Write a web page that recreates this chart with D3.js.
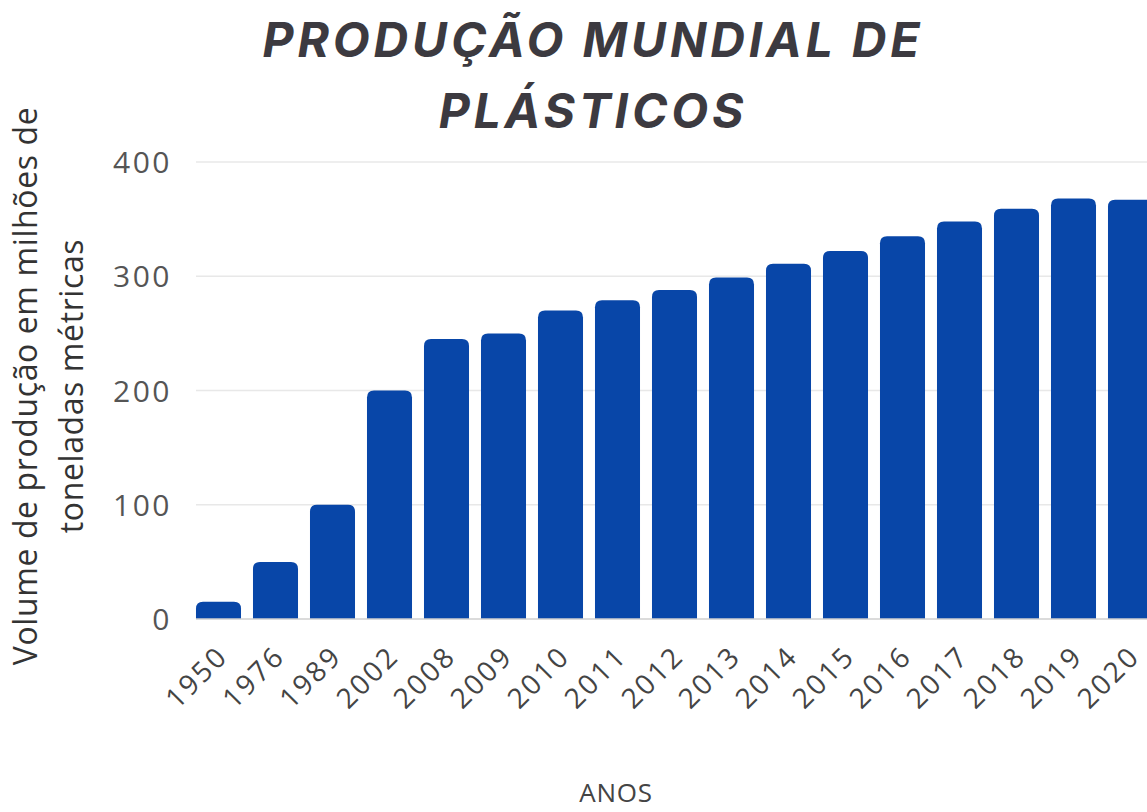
<!DOCTYPE html>
<html>
<head>
<meta charset="utf-8">
<script src="https://cdn.jsdelivr.net/npm/d3@7"></script>
<style>
  html, body { margin: 0; padding: 0; background: #fff; overflow: hidden; }
  svg { display: block; }
</style>
</head>
<body>
<svg id="chart" width="1147" height="812"></svg>
<script>
// Produção mundial de plásticos (milhões de toneladas métricas)
const years = ["1950","1976","1989","2002","2008","2009","2010","2011","2012","2013","2014","2015","2016","2017","2018","2019","2020"];
const production = [15, 50, 100, 200, 245, 250, 270, 279, 288, 299, 311, 322, 335, 348, 359, 368, 367];
const yTicks = [0, 100, 200, 300, 400];
const titleLines = ["PRODUÇÃO MUNDIAL DE", "PLÁSTICOS"];
const yTitleLines = ["Volume de produção em milhões de", "toneladas métricas"];
const xTitle = "ANOS";

const W = 1147, H = 812;
const svg = d3.select("#chart");

const x = d3.scaleBand()
  .domain(years)
  .range([190, 1159])
  .paddingInner(0.21)
  .paddingOuter(0.105);

const y = d3.scaleLinear()
  .domain([0, 400])
  .range([619, 162]);

const gridLeft = x(years[0]);

// horizontal gridlines
svg.append("g")
  .selectAll("line")
  .data(yTicks.filter(d => d > 0))
  .join("line")
  .attr("x1", gridLeft).attr("x2", W)
  .attr("y1", d => y(d)).attr("y2", d => y(d))
  .attr("stroke", "#e8e8e8")
  .attr("stroke-width", 1.5);

// y tick labels
svg.append("g")
  .selectAll("text")
  .data(yTicks)
  .join("text")
  .attr("x", 172)
  .attr("y", d => y(d) + 11)
  .attr("text-anchor", "end")
  .attr("font-family", "'Open Sans', sans-serif")
  .attr("font-size", 30)
  .attr("letter-spacing", 2.5)
  .attr("fill", "#555")
  .text(d => d);

// bars with rounded top corners
const r = 7;
function barPath(d, i) {
  const x0 = x(years[i]), w = x.bandwidth();
  const yt = y(d), yb = y(0);
  const rr = Math.min(r, (yb - yt));
  return `M${x0},${yb}V${yt + rr}Q${x0},${yt} ${x0 + rr},${yt}H${x0 + w - rr}Q${x0 + w},${yt} ${x0 + w},${yt + rr}V${yb}Z`;
}
svg.append("g")
  .selectAll("path")
  .data(production)
  .join("path")
  .attr("d", barPath)
  .attr("fill", "#0846a8");

// baseline
svg.append("line")
  .attr("x1", gridLeft).attr("x2", W)
  .attr("y1", y(0)).attr("y2", y(0))
  .attr("stroke", "#cfcfcf")
  .attr("stroke-width", 1.5);

// x tick labels, rotated
svg.append("g")
  .selectAll("text")
  .data(years)
  .join("text")
  .attr("transform", d => `translate(${x(d) + x.bandwidth() / 2 + 11},${658}) rotate(-45)`)
  .attr("text-anchor", "end")
  .attr("font-family", "'Open Sans', sans-serif")
  .attr("font-size", 28)
  .attr("letter-spacing", 2.5)
  .attr("fill", "#444")
  .text(d => d);

// x axis title
svg.append("text")
  .attr("x", 616).attr("y", 802)
  .attr("text-anchor", "middle")
  .attr("font-family", "'Open Sans', sans-serif")
  .attr("font-size", 26)
  .attr("letter-spacing", 0.8)
  .attr("fill", "#444")
  .text(xTitle);

// y axis title, two lines
const yT = svg.append("text")
  .attr("transform", "translate(0,386) rotate(-90)")
  .attr("text-anchor", "middle")
  .attr("font-family", "'Open Sans', sans-serif")
  .attr("font-size", 32)
  .attr("letter-spacing", 0.6)
  .attr("fill", "#333");
yT.selectAll("tspan")
  .data(yTitleLines)
  .join("tspan")
  .attr("x", 0)
  .attr("y", (d, i) => 37 + i * 46)
  .text(d => d);

// title
const tt = svg.append("text")
  .attr("text-anchor", "middle")
  .attr("font-family", "Inter, 'Open Sans', sans-serif")
  .attr("font-weight", 700)
  .attr("font-style", "italic")
  .attr("font-size", 48)
  .attr("letter-spacing", 3.8)
  .attr("fill", "#3c3a40");
tt.selectAll("tspan")
  .data(titleLines)
  .join("tspan")
  .attr("x", 593)
  .attr("y", (d, i) => 57 + i * 71)
  .text(d => d);
</script>
</body>
</html>
